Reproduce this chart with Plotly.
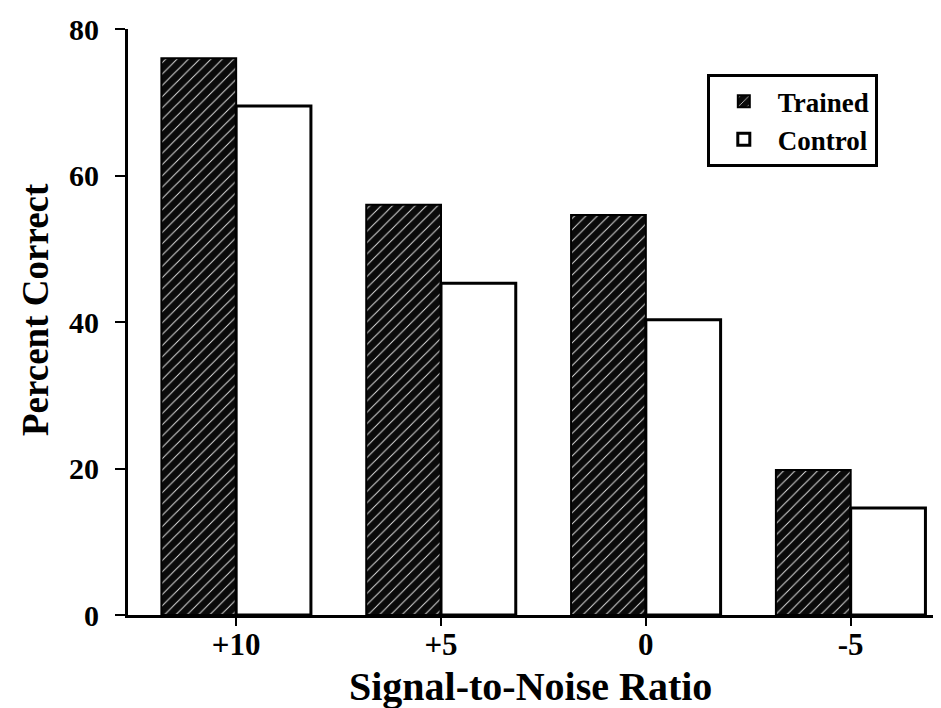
import plotly.graph_objects as go

categories = ["+10", "+5", "0", "-5"]
trained = [76.0, 56.0, 54.6, 19.8]
control = [69.5, 45.3, 40.3, 14.6]
y_ticks = [0, 20, 40, 60, 80]

FONT = "Liberation Serif"

fig = go.Figure()
fig.add_trace(go.Bar(
    name="Trained", x=categories, y=trained,
    marker=dict(
        color="#0a0a0a",
        line=dict(color="#000000", width=2),
        pattern=dict(shape="/", fgcolor="#e0e0e0", bgcolor="#0a0a0a",
                     fillmode="replace", size=8, solidity=0.12),
    ),
))
fig.add_trace(go.Bar(
    name="Control", x=categories, y=control,
    marker=dict(color="#ffffff", line=dict(color="#000000", width=3)),
))

fig.update_layout(
    width=941, height=708,
    margin=dict(l=120, r=0, t=21, b=101),
    paper_bgcolor="white", plot_bgcolor="white",
    barmode="group", bargap=0.27, bargroupgap=0,
    font=dict(family=FONT, color="#000000"),
    showlegend=True,
    legend=dict(
        x=0.705, y=0.923, xanchor="left", yanchor="top",
        bordercolor="#000000", borderwidth=3, bgcolor="white",
        font=dict(family=FONT, size=27, weight="bold"),
        itemwidth=58, tracegroupgap=0,
    ),
    xaxis=dict(
        range=[-0.528, 3.48], automargin=False,
        showline=True, linecolor="#000000", linewidth=3,
        ticks="outside", ticklen=8, tickwidth=2, tickcolor="#000000",
        tickfont=dict(family=FONT, size=31, weight="bold"),
        ticklabelstandoff=-8,
        showgrid=False, zeroline=False,
    ),
    yaxis=dict(
        range=[0, 80.01], tickvals=y_ticks, automargin=False,
        showline=True, linecolor="#000000", linewidth=3,
        ticks="outside", ticklen=10, tickwidth=2, tickcolor="#000000",
        tickfont=dict(family=FONT, size=30, weight="bold"),
        ticklabelstandoff=10,
        ticklabeloverflow="allow",
        showgrid=False, zeroline=False,
    ),
    annotations=[
        dict(text="Signal-to-Noise Ratio", xref="paper", yref="paper",
             x=0.4897, y=-0.122, xanchor="center", yanchor="middle",
             showarrow=False, font=dict(family=FONT, size=40, weight="bold")),
        dict(text="Percent Correct", xref="paper", yref="paper",
             x=-0.112, y=0.5205, xanchor="center", yanchor="middle",
             textangle=-90, showarrow=False,
             font=dict(family=FONT, size=37, weight="bold")),
    ],
)

fig.write_html("out.html")
